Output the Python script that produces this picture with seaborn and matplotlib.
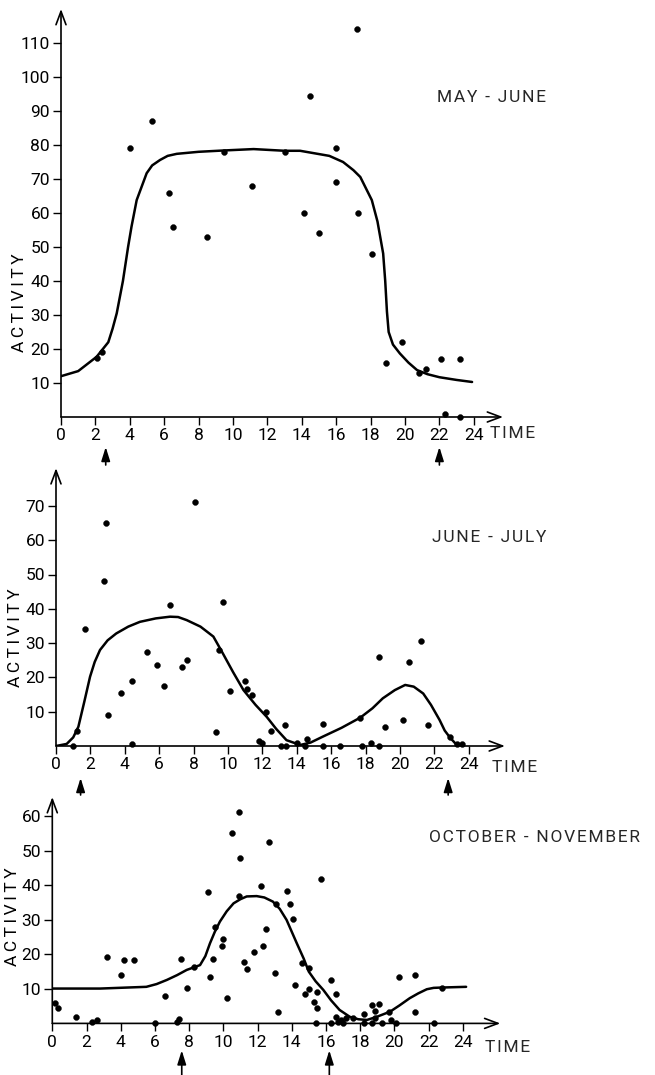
import matplotlib
matplotlib.use("Agg")
import matplotlib.pyplot as plt
import matplotlib.transforms as mtransforms
import seaborn as sns
import pandas as pd

# ---------------- data ----------------
time_ticks = list(range(0, 25, 2))

may_x = [2.1, 2.4, 4.0, 5.3, 6.3, 6.5, 8.5, 9.5, 11.1, 13.0, 14.1, 14.5, 15.0, 16.0, 16.0,
         17.2, 17.25, 18.1, 18.9, 19.8, 20.8, 21.2, 22.1, 22.3, 23.2, 23.2]
may_y = [17.5, 19, 79, 87, 66, 56, 53, 78, 68, 78, 60, 94.5, 54, 79, 69,
         114, 60, 48, 16, 22, 13, 14, 17, 1, 17, 0]
may_cx = [0, 1.0, 2.07, 2.75, 3.0, 3.24, 3.6, 3.9, 4.1, 4.4, 4.98, 5.3, 5.76, 6.2, 6.73, 8.0,
          9.5, 11.2, 13.0, 13.9, 15.6, 16.4, 17.0, 17.4, 18.07, 18.4, 18.73, 18.85, 18.95,
          19.05, 19.3, 19.7, 20.2, 20.7, 21.3, 22.0, 23.0, 23.9]
may_cy = [12, 13.5, 17.7, 22, 26, 30.5, 40, 50, 56, 63.8, 71.7, 74, 75.6, 76.8, 77.4, 78.0,
          78.4, 78.8, 78.3, 78.3, 76.8, 75, 72.6, 70.6, 63.8, 57.5, 48.1, 40, 31,
          25, 21.3, 18.7, 16, 13.8, 12.6, 11.7, 10.9, 10.3]
may_arrows = [2.6, 22.0]

jun_x = [1.0, 1.2, 1.7, 2.9, 2.8, 3.0, 3.8, 4.4, 4.4, 5.3, 5.9, 6.3, 6.6, 7.3, 7.6, 8.1,
         9.3, 9.5, 9.7, 10.1, 11.0, 11.1, 11.4, 11.8, 12.0, 12.2, 12.5, 13.1, 13.3, 13.4,
         14.0, 14.5, 14.6, 15.5, 15.5, 16.5, 17.7, 17.8, 18.3, 18.8, 18.8, 19.1, 20.2,
         20.5, 21.2, 21.6, 22.9, 23.3, 23.6]
jun_y = [0, 4.5, 34, 65, 48, 9, 15.5, 19, 0.5, 27.5, 23.5, 17.5, 41, 23, 25, 71,
         4, 28, 42, 16, 19, 16.5, 15, 1.5, 1, 10, 4.5, 0, 6, 0,
         1, 0, 2, 6.5, 0, 0, 8.3, 0, 1, 0, 26, 5.5, 7.5,
         24.5, 30.5, 6, 2.5, 0.7, 0.7]
jun_cx = [0, 0.62, 1.0, 1.3, 1.65, 1.98, 2.25, 2.56, 3.0, 3.5, 4.2, 4.88, 5.8, 6.63, 7.1, 7.6,
          8.4, 9.15, 9.7, 10.3, 10.9, 11.6, 12.25, 12.8, 13.4, 14.2, 14.8, 15.5, 16.6, 17.7,
          18.4, 19.0, 19.7, 20.3, 20.8, 21.35, 21.8, 22.3, 22.6, 22.9, 23.3, 23.7]
jun_cy = [0, 0.6, 2.5, 5.6, 13, 20.2, 24.5, 28, 30.8, 32.8, 34.8, 36.2, 37.2, 37.7, 37.6, 36.7,
          34.8, 31.9, 27, 21.5, 16.3, 12, 8.5, 5, 1.7, 0.3, 1.0, 2.7, 5.3, 8.3,
          11.0, 13.9, 16.3, 17.8, 17.3, 15.3, 12, 7.6, 4.5, 2.5, 0.3, 0]
jun_arrows = [1.43, 22.8]

oct_x = [0.15, 0.35, 1.4, 2.35, 2.6, 3.2, 4.0, 4.2, 4.8, 6.0, 6.6, 7.3, 7.4, 7.5, 7.9, 8.3,
         9.1, 9.2, 9.4, 9.5, 9.9, 10.0, 10.2, 10.5, 10.9, 11.0, 10.9, 11.2, 11.4, 11.8,
         12.2, 12.3, 12.5, 12.7, 13.0, 13.1, 13.2, 13.7, 13.9, 14.1, 14.2, 14.6, 15.0,
         14.8, 15.0, 15.3, 15.5, 15.5, 15.4, 15.7, 16.3, 16.6, 16.3, 16.6, 16.7, 16.9,
         17.0, 17.2, 17.6, 18.2, 18.2, 18.7, 19.1, 18.9, 18.9, 18.7, 19.3, 19.7, 19.8,
         20.1, 20.3, 21.2, 21.2, 22.3, 22.8]
oct_y = [5.8, 4.6, 1.8, 0.3, 1, 19.3, 14, 18.4, 18.3, 0.2, 7.8, 0.5, 1.2, 18.6, 10.4, 16.4,
         38.2, 13.4, 18.7, 27.9, 22.4, 24.5, 7.5, 55.2, 61.2, 48, 37, 17.7, 15.7, 20.6,
         39.7, 22.4, 27.5, 52.5, 14.6, 34.5, 3.4, 38.5, 34.5, 30.4, 11.2, 17.4, 16,
         8.5, 9.9, 6.2, 4.6, 9, 0, 42, 12.6, 8.5, 0, 1.9, 0.3, 1,
         0, 1.5, 1.6, 2.7, 0, 5.3, 5.6, 3.7, 1.5, 0, 0, 3.4, 1,
         0, 13.4, 14, 3.4, 0, 10.2]
oct_cx = [0, 2.8, 5.5, 6.1, 6.7, 7.3, 7.86, 8.64, 8.95, 9.22, 9.5, 9.8, 10.2, 10.6, 11.0,
          11.37, 11.95, 12.4, 12.9, 13.3, 13.7, 14.3, 14.7, 15.0, 15.4, 15.85, 16.3, 16.8,
          17.4, 17.9, 18.4, 18.97, 19.75, 20.3, 20.9, 21.4, 21.9, 22.3, 22.8, 24.2]
oct_cy = [10.1, 10.1, 10.6, 11.4, 12.6, 14.0, 15.5, 16.9, 19.5, 23.2, 26.5, 29.5, 32.5, 34.8,
          36.0, 36.8, 36.9, 36.5, 35.3, 33.2, 30, 23.2, 18.8, 15.0, 12.2, 9.7, 6.7, 3.9,
          1.9, 1.2, 1.0, 1.9, 3.4, 5.2, 7.3, 8.7, 9.9, 10.3, 10.4, 10.6]
oct_arrows = [7.57, 16.2]

titles = ["MAY - JUNE", "JUNE - JULY", "OCTOBER - NOVEMBER"]
yticks_list = [list(range(10, 111, 10)), list(range(10, 71, 10)), list(range(10, 61, 10))]

# ---------------- style ----------------
sns.set_theme(style="white")
plt.rcParams['font.family'] = ['Roboto', 'DejaVu Sans']
plt.rcParams['axes.facecolor'] = 'white'

W, H = 655, 1075
fig = plt.figure(figsize=(W / 100, H / 100), dpi=100)

THIN = "\u2009"
HAIR = "\u200a"

def spaced(s, sep=THIN):
    return sep.join(list(s))

# panel geometry in pixels: (left, baseline, px per hour, px per unit, xmax, ymax)
geom = [
    (61, 417, 17.2, 3.40, 25.7, 120.0),
    (56, 746, 17.2, 3.43, 26.1, 81.0),
    (52.3, 1023.4, 17.1, 3.45, 26.2, 65.6),
]
label_frac = [0.28, 0.39, 0.47]
label_off = [34, 33, 32]
title_pos = [(437, 98), (432, 537), (429, 837)]
time_pos = [(490, 433), (492, 767), (485, 1047)]
arrow_pix = [(30, 48), (32, 49), (27, 52)]

panels = [
    (may_x, may_y, may_cx, may_cy, may_arrows),
    (jun_x, jun_y, jun_cx, jun_cy, jun_arrows),
    (oct_x, oct_y, oct_cx, oct_cy, oct_arrows),
]

FS = 12.5
for i, (px, py, cx, cy, arrows) in enumerate(panels):
    left, base, pxh, pxu, xmax, ymax = geom[i]
    wpx = xmax * pxh
    hpx = ymax * pxu
    ax = fig.add_axes([left / W, (H - base) / H, wpx / W, hpx / H])
    ax.set_facecolor('none')

    pts = pd.DataFrame({"time": px, "activity": py})
    crv = pd.DataFrame({"time": cx, "activity": cy})
    sns.lineplot(data=crv, x="time", y="activity", ax=ax, color="black",
                 lw=1.8, sort=False, estimator=None)
    sns.scatterplot(data=pts, x="time", y="activity", ax=ax, color="black",
                    s=18, edgecolor="black", linewidth=0.3, zorder=3, clip_on=False)

    ax.set_xlim(0, xmax)
    ax.set_ylim(0, ymax)
    ax.set_xticks(time_ticks)
    ax.set_xticklabels([str(t) for t in time_ticks])
    ax.set_yticks(yticks_list[i])
    ax.set_yticklabels([str(t) for t in yticks_list[i]])
    for s in ax.spines.values():
        s.set_visible(False)
    ax.tick_params(axis='both', direction='out', length=6, width=1.0, color='black',
                   labelsize=FS, labelcolor='black', pad=2, bottom=True, left=True)
    ax.set_xlabel("")
    ax.set_ylabel(spaced("ACTIVITY"), fontsize=FS, color='black')
    ax.yaxis.set_label_coords(-label_off[i] / wpx, label_frac[i])

    # axis arrows
    ax.annotate('', xy=(1, 0), xytext=(0, 0), xycoords='axes fraction',
                arrowprops=dict(arrowstyle='->,head_length=0.8,head_width=0.3', lw=1.2,
                                color='black', shrinkA=0, shrinkB=0))
    ax.annotate('', xy=(0, 1), xytext=(0, 0), xycoords='axes fraction',
                arrowprops=dict(arrowstyle='->,head_length=0.8,head_width=0.3', lw=1.2,
                                color='black', shrinkA=0, shrinkB=0))

    # time markers below axis
    head_off, tail_off = arrow_pix[i]
    tr = ax.get_xaxis_transform()
    tr_head = mtransforms.offset_copy(tr, fig=fig, y=-head_off, units='dots')
    tr_tail = mtransforms.offset_copy(tr, fig=fig, y=-tail_off, units='dots')
    for a in arrows:
        ax.annotate('', xy=(a, 0), xycoords=tr_head, xytext=(a, 0), textcoords=tr_tail,
                    arrowprops=dict(arrowstyle='-|>,head_length=0.7,head_width=0.22',
                                    lw=1.2, color='black', shrinkA=0, shrinkB=0),
                    annotation_clip=False)

    tx, ty = title_pos[i]
    fig.text(tx / W, 1 - ty / H, spaced(titles[i], HAIR), fontsize=FS, ha='left', va='center')
    mx, my = time_pos[i]
    fig.text(mx / W, 1 - my / H, spaced("TIME", HAIR), fontsize=FS, ha='left', va='center')

fig.savefig("out.png", dpi=100, facecolor='white')
